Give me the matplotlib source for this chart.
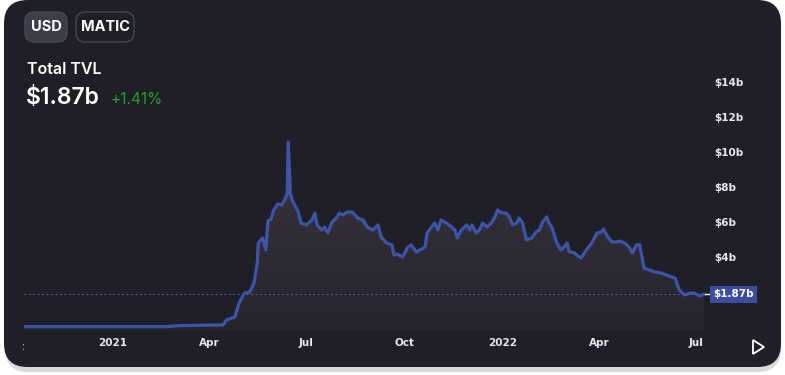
import numpy as np
import pandas as pd
import matplotlib
matplotlib.use("Agg")
import matplotlib.pyplot as plt
import matplotlib.dates as mdates
from matplotlib.patches import FancyBboxPatch, Polygon
from matplotlib.transforms import Bbox, blended_transform_factory

# ---------------- data ----------------
dates = [
    "2020-10-10", "2021-02-20", "2021-03-04", "2021-03-23", "2021-04-14", "2021-04-17",
    "2021-04-25", "2021-04-29", "2021-05-04", "2021-05-09", "2021-05-13", "2021-05-16",
    "2021-05-17", "2021-05-21", "2021-05-24", "2021-05-26", "2021-05-29", "2021-05-31",
    "2021-06-04", "2021-06-08", "2021-06-11", "2021-06-13", "2021-06-14", "2021-06-16",
    "2021-06-18", "2021-06-23", "2021-06-26", "2021-07-01", "2021-07-06", "2021-07-09",
    "2021-07-11", "2021-07-15", "2021-07-18", "2021-07-21", "2021-07-25", "2021-07-29",
    "2021-08-01", "2021-08-04", "2021-08-08", "2021-08-13", "2021-08-18", "2021-08-23",
    "2021-08-27", "2021-09-01", "2021-09-06", "2021-09-09", "2021-09-14", "2021-09-19",
    "2021-09-21", "2021-09-24", "2021-09-29", "2021-10-04", "2021-10-07", "2021-10-12",
    "2021-10-17", "2021-10-20", "2021-10-22", "2021-10-26", "2021-10-29", "2021-11-01",
    "2021-11-04", "2021-11-09", "2021-11-14", "2021-11-17", "2021-11-19", "2021-11-23",
    "2021-11-28", "2021-12-01", "2021-12-03", "2021-12-07", "2021-12-10", "2021-12-13",
    "2021-12-17", "2021-12-21", "2021-12-24", "2021-12-27", "2021-12-31", "2022-01-04",
    "2022-01-07", "2022-01-10", "2022-01-14", "2022-01-16", "2022-01-19", "2022-01-23",
    "2022-01-28", "2022-02-01", "2022-02-04", "2022-02-07", "2022-02-11", "2022-02-13",
    "2022-02-16", "2022-02-20", "2022-02-24", "2022-02-27", "2022-03-02", "2022-03-04",
    "2022-03-09", "2022-03-11", "2022-03-15", "2022-03-20", "2022-03-25", "2022-03-30",
    "2022-04-03", "2022-04-05", "2022-04-09", "2022-04-13", "2022-04-17", "2022-04-20",
    "2022-04-25", "2022-04-29", "2022-05-02", "2022-05-06", "2022-05-09", "2022-05-13",
    "2022-05-18", "2022-05-23", "2022-05-29", "2022-06-03", "2022-06-08", "2022-06-11",
    "2022-06-15", "2022-06-20", "2022-06-25", "2022-06-29", "2022-07-04", "2022-07-08",
]
tvl_b = [
    0.02, 0.02, 0.08, 0.10, 0.12, 0.40,
    0.57, 1.37, 1.94, 2.00, 2.51, 3.66,
    4.80, 5.09, 4.40, 6.06, 6.17, 6.63,
    7.03, 6.97, 7.31, 7.60, 10.57, 7.60,
    7.20, 6.63, 5.94, 5.83, 6.11, 6.51,
    5.83, 5.54, 5.71, 5.37, 6.00, 6.23,
    6.51, 6.40, 6.57, 6.57, 6.23, 6.11,
    5.71, 5.54, 5.83, 5.14, 4.80, 4.69,
    4.11, 4.17, 4.00, 4.57, 4.69, 4.29,
    4.46, 4.57, 5.37, 5.71, 5.94, 5.54,
    6.11, 5.94, 5.71, 5.54, 5.09, 5.54,
    5.83, 5.54, 5.83, 5.37, 5.54, 5.94,
    5.71, 5.94, 6.23, 6.69, 6.51, 6.51,
    6.29, 5.83, 5.94, 6.23, 6.00, 4.97,
    5.09, 5.43, 5.54, 6.00, 6.29, 5.94,
    5.66, 4.86, 4.40, 4.57, 4.80, 4.29,
    4.23, 4.11, 3.94, 4.40, 4.80, 5.37,
    5.43, 5.60, 5.14, 4.86, 4.86, 4.91,
    4.80, 4.57, 4.23, 4.69, 4.69, 3.37,
    3.26, 3.14, 3.09, 2.97, 2.86, 2.80,
    2.11, 1.83, 1.94, 1.94, 1.77, 1.87,
]
current_value = 1.87
current_label = "$1.87b"
change_label = "+1.41%"
y_ticks = [4, 6, 8, 10, 12, 14]
y_tick_labels = ["$4b", "$6b", "$8b", "$10b", "$12b", "$14b"]
x_tick_dates = ["2021-01-01", "2021-04-01", "2021-07-01", "2021-10-01",
                "2022-01-01", "2022-04-01", "2022-07-01"]
x_tick_labels = ["2021", "Apr", "Jul", "Oct", "2022", "Apr", "Jul"]
clipped_tick_date = "2020-10-01"
clipped_tick_label = "Oct"

# ---------------- figure ----------------
W, H = 785, 375
fig = plt.figure(figsize=(W / 100, H / 100), dpi=100)
fig.patch.set_facecolor("white")

BG = "#1f2027"
LINE = "#3d55a8"

# card shadow + card
shadow = FancyBboxPatch((5 / W, 3 / H), 776 / W, 368 / H,
                        boxstyle="round,pad=0,rounding_size=0.03",
                        transform=fig.transFigure, facecolor="#d9d9dc",
                        edgecolor="none", zorder=-3, mutation_aspect=W / H)
fig.patches.append(shadow)
card = FancyBboxPatch((4 / W, 8 / H), 777 / W, 367 / H,
                      boxstyle="round,pad=0,rounding_size=0.03",
                      transform=fig.transFigure, facecolor=BG,
                      edgecolor="none", zorder=-2, mutation_aspect=W / H)
fig.patches.append(card)

# axes placement (pixel layout)
ax_l, ax_r, ax_t, ax_b = 24, 705, 70, 330
ax = fig.add_axes([ax_l / W, (H - ax_b) / H, (ax_r - ax_l) / W, (ax_b - ax_t) / H])
ax.set_facecolor("none")
ax.set_zorder(1)
for s in ax.spines.values():
    s.set_visible(False)

x = mdates.date2num(pd.to_datetime(dates))
y = np.array(tvl_b)

# scales: 2021-01-01 at px 113, 2022-01-01 at px 503; 0 at px 327, 17.5 px per billion
d21 = mdates.date2num(pd.Timestamp("2021-01-01"))
ppd = (503 - 113) / 365.0
XLIM = (d21 - (113 - ax_l) / ppd, d21 + (ax_r - 113) / ppd)
ppb = 17.5
YLIM = (-(ax_b - 327) / ppb, (327 - ax_t) / ppb)
ylo, yhi = YLIM

# gradient fill under the line
grad = np.linspace(0, 1, 256)
top_c = np.array([0x3b, 0x34, 0x40]) / 255
bot_c = np.array([0x26, 0x25, 0x2c]) / 255
img = (top_c[None, :] * (1 - grad[:, None]) + bot_c[None, :] * grad[:, None]).reshape(256, 1, 3)
im = ax.imshow(img, extent=[x[0], x[-1], ylo, 10.6], origin="upper",
               aspect="auto", zorder=1)
poly = Polygon(np.column_stack([np.r_[x[0], x, x[-1]], np.r_[ylo, y, ylo]]),
               closed=True, transform=ax.transData, facecolor="none", edgecolor="none")
ax.add_patch(poly)
im.set_clip_path(poly)

ax.plot(x, y, color=LINE, lw=2.3, solid_joinstyle="round", solid_capstyle="round", zorder=3)

# dotted current-value line
ax.axhline(current_value, color="#5064b4", lw=0.8, ls=(0, (1.5, 2.5)), zorder=2)

# y ticks on right
ax.yaxis.tick_right()
ax.set_yticks(y_ticks)
ax.set_yticklabels(y_tick_labels)
ax.tick_params(axis="y", length=0, pad=7, labelsize=7.5, labelcolor="#e8e8ea")
for t in ax.get_yticklabels():
    t.set_horizontalalignment("left")
    t.set_fontweight("bold")

# x ticks
xt = mdates.date2num(pd.to_datetime(x_tick_dates))
ax.set_xticks(xt)
ax.set_xticklabels(x_tick_labels)
ax.tick_params(axis="x", length=0, pad=6, labelsize=7.5, labelcolor="#e8e8ea")
for t in ax.get_xticklabels():
    t.set_fontweight("bold")

# limits last (set_ticks may expand them)
ax.set_xlim(*XLIM)
ax.set_ylim(*YLIM)

# partially hidden first tick label
xtr = blended_transform_factory(ax.transData, ax.transAxes)
ct = ax.text(mdates.date2num(pd.Timestamp(clipped_tick_date)), -0.045, clipped_tick_label,
             transform=xtr, ha="center", va="top", fontsize=7.5, fontweight="bold",
             color="#e8e8ea", clip_on=True)
ct.set_clip_box(Bbox.from_extents(23, 0, W, H))

# current value label box
trans = blended_transform_factory(ax.transAxes, ax.transData)
ax.plot([1.0, 1.008], [current_value, current_value], transform=trans,
        color="white", lw=1.0, clip_on=False, zorder=4)
ax.text(1.012, current_value, current_label, transform=trans, ha="left", va="center",
        color="white", fontsize=7.5, fontweight="bold", zorder=5, clip_on=False,
        bbox=dict(boxstyle="square,pad=0.35", facecolor="#3b4d9e", edgecolor="none"))

# header buttons
def button(x0, y0, w, h, label, fill, edge):
    b = FancyBboxPatch((x0 / W, (H - y0 - h) / H), w / W, h / H,
                       boxstyle="round,pad=0,rounding_size=0.012",
                       transform=fig.transFigure, facecolor=fill, edgecolor=edge,
                       lw=0.9, zorder=2, mutation_aspect=W / H)
    fig.patches.append(b)
    fig.text((x0 + w / 2) / W, (H - y0 - h / 2) / H, label, ha="center", va="center",
             color="white", fontsize=10.5, fontweight="bold", family="Inter")

button(25, 12, 42, 30, "USD", "#3b3e48", "#4a4d57")
button(76, 12, 58, 30, "MATIC", BG, "#4a4d57")

fig.text(27 / W, (H - 70) / H, "Total TVL", ha="left", va="center", color="white",
         fontsize=11.5, fontweight="semibold", family="Inter")
fig.text(26 / W, (H - 98) / H, current_label, ha="left", va="center", color="white",
         fontsize=16.5, fontweight="semibold", family="Inter")
fig.text(110 / W, (H - 99) / H, change_label, ha="left", va="center", color="#23a02a",
         fontsize=11, family="Inter")

# play triangle
tri = Polygon([[753 / W, (H - 340) / H], [753 / W, (H - 354) / H], [764 / W, (H - 347) / H]],
              closed=True, transform=fig.transFigure, facecolor="none",
              edgecolor="white", lw=1.3, zorder=3)
fig.patches.append(tri)

fig.savefig("out.png", dpi=100, facecolor=fig.get_facecolor())
